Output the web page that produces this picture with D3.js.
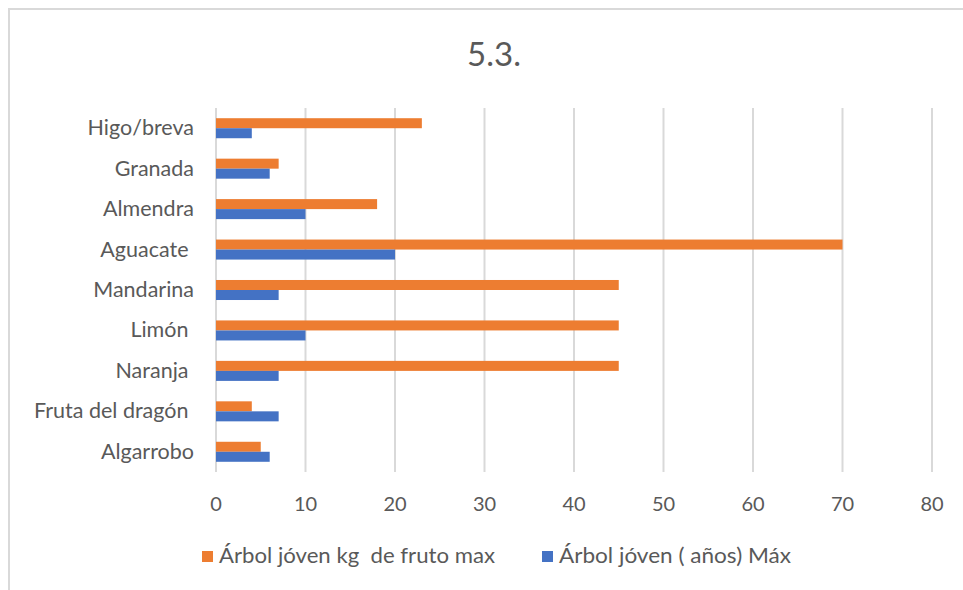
<!DOCTYPE html>
<html>
<head>
<meta charset="utf-8">
<script src="https://cdn.jsdelivr.net/npm/d3@7/dist/d3.min.js"></script>
<style>
  html, body { margin: 0; padding: 0; background: #fff; }
  svg text { font-family: Lato, "Liberation Sans", sans-serif; fill: #595959; white-space: pre; }
</style>
</head>
<body>
<div id="root"></div>
<script>
const categories = ['Higo/breva', 'Granada', 'Almendra', 'Aguacate ', 'Mandarina', 'Limón ', 'Naranja ', 'Fruta del dragón ', 'Algarrobo'];
const kgFruto = [23, 7, 18, 70, 45, 45, 45, 4, 5];
const anosMax = [4, 6, 10, 20, 7, 10, 7, 7, 6];
const seriesNames = ['Árbol jóven kg  de fruto max', 'Árbol jóven ( años) Máx'];
const colors = ['#ED7D31', '#4472C4'];
const xTicks = [0, 10, 20, 30, 40, 50, 60, 70, 80];

const width = 963, height = 590;
const plot = {left: 216, right: 932, top: 108, bottom: 472};

const svg = d3.select('#root').append('svg')
              .attr('width', width)
              .attr('height', height);

// chart frame
svg.append('rect')
   .attr('x', 9).attr('y', 9)
   .attr('width', width).attr('height', height)
   .attr('fill', 'none')
   .attr('stroke', '#d9d9d9')
   .attr('stroke-width', 2);

svg.append('text')
   .text('5.3.')
   .attr('x', 494)
   .attr('y', 66)
   .attr('text-anchor', 'middle')
   .style('font-size', '33px');

const x = d3.scaleLinear().domain([0, 80]).range([plot.left, plot.right]);
const y = d3.scaleBand().domain(categories).range([plot.top, plot.bottom])
            .paddingInner(0.505).paddingOuter(0.2525);
const ySub = d3.scaleBand().domain([0, 1]).range([0, y.bandwidth()]);

// gridlines
svg.append('g').selectAll('line')
   .data(xTicks).enter()
   .append('line')
   .attr('x1', d => x(d)).attr('x2', d => x(d))
   .attr('y1', plot.top).attr('y2', plot.bottom)
   .attr('stroke', '#d9d9d9')
   .attr('stroke-width', 2);

// x tick labels
svg.append('g').selectAll('text')
   .data(xTicks).enter()
   .append('text')
   .text(d => d)
   .attr('x', d => x(d))
   .attr('y', 511)
   .attr('text-anchor', 'middle')
   .style('font-size', '20px');

// category labels
svg.append('g').selectAll('text')
   .data(categories).enter()
   .append('text')
   .text(d => d)
   .attr('x', 194)
   .attr('y', d => y(d) + y.bandwidth() / 2 + 7)
   .attr('text-anchor', 'end')
   .style('font-size', '21.5px');

const series = [kgFruto, anosMax];
series.forEach((vals, s) => {
  svg.append('g').selectAll('rect')
     .data(vals).enter()
     .append('rect')
     .attr('x', x(0))
     .attr('y', (d, i) => y(categories[i]) + ySub(s))
     .attr('width', d => x(d) - x(0))
     .attr('height', ySub.bandwidth())
     .attr('fill', colors[s]);
});

// legend
const legendX = [202, 542];
const legendW = [276, 232];
const legend = svg.append('g');
seriesNames.forEach((name, i) => {
  legend.append('rect')
        .attr('x', legendX[i]).attr('y', 551)
        .attr('width', 11).attr('height', 11)
        .attr('fill', colors[i]);
  legend.append('text')
        .text(name)
        .attr('x', legendX[i] + 17)
        .attr('y', 563)
        .attr('textLength', legendW[i])
        .attr('lengthAdjust', 'spacingAndGlyphs')
        .style('font-size', '21px');
});
</script>
</body>
</html>
